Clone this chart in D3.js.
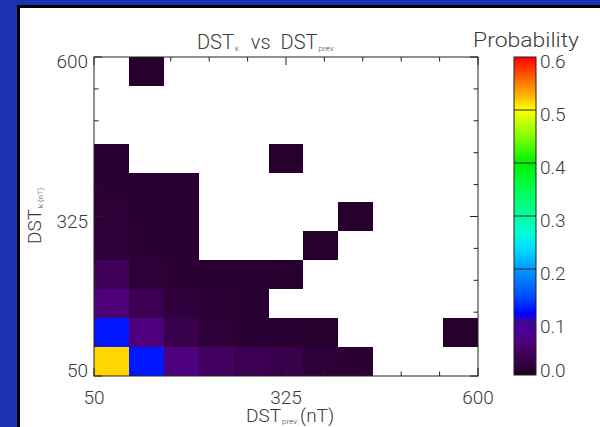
<!DOCTYPE html>
<html>
<head>
<meta charset="utf-8">
<script src="https://cdn.jsdelivr.net/npm/d3@7"></script>
<style>
  html, body { margin: 0; padding: 0; background: #1b32b0; }
  svg { display: block; }
  text { font-family: Roboto, "Liberation Sans", sans-serif; font-weight: 300; fill: #3a3a3a; }
</style>
</head>
<body>
<script>
// Bin lower edges for DST_prev (x) and DST_k (y), in nT
const dstPrevBins = [50, 100, 150, 200, 250, 300, 350, 400, 450, 500, 550];
const dstKBins    = [50, 100, 150, 200, 250, 300, 350, 400, 450, 500, 550];
const binWidth = 50;

// Probability per cell; one row per DST_k bin (bottom row first), null = no events
const probRow0  = [0.515, 0.125, 0.065, 0.045, 0.035, 0.030, 0.015, 0.012, null, null, null];
const probRow1  = [0.125, 0.065, 0.030, 0.016, 0.012, 0.010, 0.008, null, null, null, 0.008];
const probRow2  = [0.060, 0.035, 0.018, 0.013, 0.010, null, null, null, null, null, null];
const probRow3  = [0.040, 0.014, 0.012, 0.010, 0.010, 0.009, null, null, null, null, null];
const probRow4  = [0.018, 0.012, 0.010, null, null, null, 0.008, null, null, null, null];
const probRow5  = [0.015, 0.012, 0.010, null, null, null, null, 0.008, null, null, null];
const probRow6  = [0.012, 0.010, 0.010, null, null, null, null, null, null, null, null];
const probRow7  = [0.010, null, null, null, null, 0.008, null, null, null, null, null];
const probRow8  = [null, null, null, null, null, null, null, null, null, null, null];
const probRow9  = [null, null, null, null, null, null, null, null, null, null, null];
const probRow10 = [null, 0.008, null, null, null, null, null, null, null, null, null];
const probability = [probRow0, probRow1, probRow2, probRow3, probRow4, probRow5,
                     probRow6, probRow7, probRow8, probRow9, probRow10];

// Axis ticks and labels
const axisTicks = [50, 105, 160, 215, 270, 325, 380, 435, 490, 545, 600];
const axisLabels = [50, 325, 600];
const colorbarTicks = [0.0, 0.1, 0.2, 0.3, 0.4, 0.5, 0.6];

// Rainbow colour table (value -> colour)
const cmapStops  = [0.000, 0.010, 0.030, 0.060, 0.100, 0.115, 0.150, 0.200, 0.240, 0.270, 0.300, 0.350, 0.400, 0.450, 0.500, 0.520, 0.600];
const cmapColors = ["#1a001e", "#2a0032", "#38004a", "#4e0078", "#4a00a8", "#0000ff", "#0050ff", "#0098ff", "#00e0ff", "#00ffd0", "#00ffa0", "#00ff50", "#00f000", "#80ff00", "#ffff00", "#ffc800", "#ff0000"];

const W = 600, H = 427;
const plot = { left: 94, right: 478, top: 57, bottom: 376 };
const cbar = { left: 514, right: 536 };

const svg = d3.select("body").append("svg").attr("width", W).attr("height", H);

// Window frame: blue background, dark edge, white panel
svg.append("rect").attr("width", W).attr("height", H).attr("fill", "#1b32b0");
svg.append("rect").attr("x", 17).attr("y", 5).attr("width", W - 17).attr("height", H - 5).attr("fill", "#000");
svg.append("rect").attr("x", 20).attr("y", 8).attr("width", W - 20).attr("height", H - 8).attr("fill", "#fff");

const x = d3.scaleLinear().domain([50, 600]).range([plot.left, plot.right]);
const y = d3.scaleLinear().domain([50, 600]).range([plot.bottom, plot.top]);
const color = d3.scaleLinear().domain(cmapStops).range(cmapColors).clamp(true);

// Heat-map cells
const cells = [];
probability.forEach((row, j) => row.forEach((p, i) => {
  if (p !== null) cells.push({ x0: dstPrevBins[i], y0: dstKBins[j], p });
}));
svg.append("g").selectAll("rect").data(cells).join("rect")
  .attr("x", d => x(d.x0))
  .attr("y", d => y(d.y0 + binWidth))
  .attr("width", d => x(d.x0 + binWidth) - x(d.x0))
  .attr("height", d => y(d.y0) - y(d.y0 + binWidth))
  .attr("fill", d => color(d.p))
  .attr("shape-rendering", "crispEdges");

// Axes: ticks point inward on all four sides, longer at labelled values
const tickLen = v => axisLabels.includes(v) ? 8 : 4.5;
const frame = svg.append("g").attr("stroke", "#222").attr("stroke-width", 1).attr("fill", "none");
frame.append("rect").attr("x", plot.left).attr("y", plot.top)
  .attr("width", plot.right - plot.left).attr("height", plot.bottom - plot.top);
frame.selectAll(".tb").data(axisTicks).join("line")
  .attr("x1", d => x(d)).attr("x2", d => x(d))
  .attr("y1", plot.bottom).attr("y2", d => plot.bottom - tickLen(d));
frame.selectAll(".tt").data(axisTicks).join("line")
  .attr("x1", d => x(d)).attr("x2", d => x(d))
  .attr("y1", plot.top).attr("y2", d => plot.top + tickLen(d));
frame.selectAll(".tl").data(axisTicks).join("line")
  .attr("y1", d => y(d)).attr("y2", d => y(d))
  .attr("x1", plot.left).attr("x2", d => plot.left + tickLen(d));
frame.selectAll(".tr").data(axisTicks).join("line")
  .attr("y1", d => y(d)).attr("y2", d => y(d))
  .attr("x1", plot.right).attr("x2", d => plot.right - tickLen(d));

const fs = 19;
// Left tick labels
svg.append("g").selectAll("text").data(axisLabels).join("text")
  .attr("x", plot.left - 6)
  .attr("y", d => Math.min(y(d) + 11, plot.bottom + 1))
  .attr("text-anchor", "end").attr("font-size", fs)
  .text(d => d);
// Bottom tick labels
svg.append("g").selectAll("text").data(axisLabels).join("text")
  .attr("x", d => x(d))
  .attr("y", plot.bottom + 28)
  .attr("text-anchor", "middle").attr("font-size", fs)
  .text(d => d);

// Axis titles
const xl = svg.append("text").attr("x", 246).attr("y", 422).attr("font-size", fs);
xl.append("tspan").text("DST");
xl.append("tspan").attr("font-size", 8).attr("dy", 2).attr("dx", 1).text("prev");
xl.append("tspan").attr("dy", -2).attr("dx", 3).text("(nT)");

const yl = svg.append("text").attr("transform", "translate(41,244) rotate(-90)").attr("font-size", fs);
yl.append("tspan").text("DST");
yl.append("tspan").attr("font-size", 8).attr("dy", 2).attr("dx", 1).text("k (nT)");

// Title
const title = svg.append("text").attr("x", 197).attr("y", 49).attr("font-size", fs + 1);
title.append("tspan").text("DST");
title.append("tspan").attr("font-size", 8).attr("dy", 2).attr("dx", 1).text("k");
title.append("tspan").attr("dy", -2).attr("dx", 12).text("vs");
title.append("tspan").attr("dx", 10).text("DST");
title.append("tspan").attr("font-size", 8).attr("dy", 2).attr("dx", 1).text("prev");

svg.append("text").attr("x", 473).attr("y", 47).attr("font-size", fs + 1)
  .attr("textLength", 106).attr("lengthAdjust", "spacingAndGlyphs").text("Probability");

// Colour bar
const yc = d3.scaleLinear().domain([0, 0.6]).range([375, 57]);
const grad = svg.append("defs").append("linearGradient").attr("id", "cbar")
  .attr("x1", 0).attr("y1", 1).attr("x2", 0).attr("y2", 0);
grad.selectAll("stop").data(d3.range(0, 0.6001, 0.005)).join("stop")
  .attr("offset", d => d / 0.6).attr("stop-color", d => color(d));
svg.append("rect").attr("x", cbar.left).attr("y", yc(0.6))
  .attr("width", cbar.right - cbar.left).attr("height", yc(0) - yc(0.6))
  .attr("fill", "url(#cbar)").attr("stroke", "#222");
svg.append("g").selectAll("line").data(colorbarTicks.slice(1, -1)).join("line")
  .attr("x1", cbar.left).attr("x2", cbar.right)
  .attr("y1", d => yc(d)).attr("y2", d => yc(d))
  .attr("stroke", "#222");
svg.append("g").selectAll("text").data(colorbarTicks).join("text")
  .attr("x", cbar.right + 4)
  .attr("y", d => Math.min(yc(d) + 11, 377))
  .attr("font-size", fs)
  .text(d => d.toFixed(1));
</script>
</body>
</html>
